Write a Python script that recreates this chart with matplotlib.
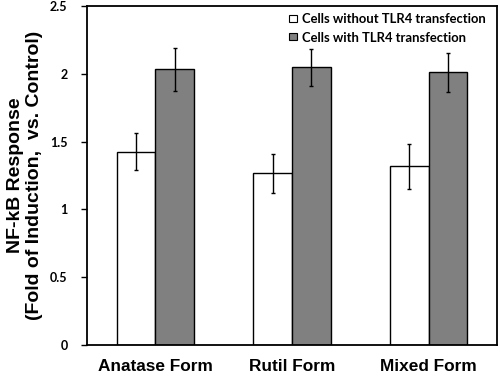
import matplotlib
matplotlib.use('Agg')
import matplotlib.pyplot as plt
import numpy as np

# Data
forms = ['Anatase Form', 'Rutil Form', 'Mixed Form']
without_tlr4 = [1.425, 1.266, 1.318]
without_err = [0.135, 0.143, 0.166]
with_tlr4 = [2.033, 2.048, 2.010]
with_err = [0.157, 0.137, 0.146]
series_names = ['Cells without TLR4 transfection', 'Cells with TLR4 transfection']
yticks = [0, 0.5, 1, 1.5, 2, 2.5]
ytick_labels = ['0', '0.5', '1', '1.5', '2', '2.5']

fig = plt.figure(figsize=(5, 3.79), dpi=100)
ax = fig.add_axes([0.174, 0.09, 0.82, 0.894])

x = np.arange(len(forms))
w = 0.283
err_style = dict(ecolor='black', elinewidth=1.0, capsize=1.6, capthick=1.0)
ax.bar(x - w / 2, without_tlr4, w, color='white', edgecolor='black', linewidth=1.0,
       yerr=without_err, error_kw=err_style, label=series_names[0])
ax.bar(x + w / 2, with_tlr4, w, color='#808080', edgecolor='black', linewidth=1.0,
       yerr=with_err, error_kw=err_style, label=series_names[1])

ax.set_xlim(-0.5, 2.5)
ax.set_ylim(0, 2.5)
ax.set_yticks(yticks)
ax.set_yticklabels(ytick_labels, fontfamily='Lato', fontweight='bold', fontsize=9)
ax.set_xticks(x)
ax.set_xticklabels(forms, fontfamily='Liberation Sans', fontweight='bold', fontsize=12.4)
ax.tick_params(axis='y', direction='out', length=4, width=1, pad=10)
ax.tick_params(axis='x', length=0, pad=10)
for s in ax.spines.values():
    s.set_linewidth(1.3)

ax.set_ylabel('NF-kB Response\n(Fold of Induction,  vs. Control)', fontfamily='Liberation Sans',
              fontweight='bold', fontsize=14, linespacing=1.15, labelpad=5)

leg = ax.legend(loc='upper right', bbox_to_anchor=(0.985, 0.995), frameon=False,
                prop=dict(family='Lato', weight='bold', size=9.4),
                handlelength=0.62, handleheight=0.45, handletextpad=0.35, labelspacing=0.5,
                borderaxespad=0.0)
for h in leg.legend_handles:
    h.set_linewidth(0.8)

fig.savefig('out.png', dpi=100)
